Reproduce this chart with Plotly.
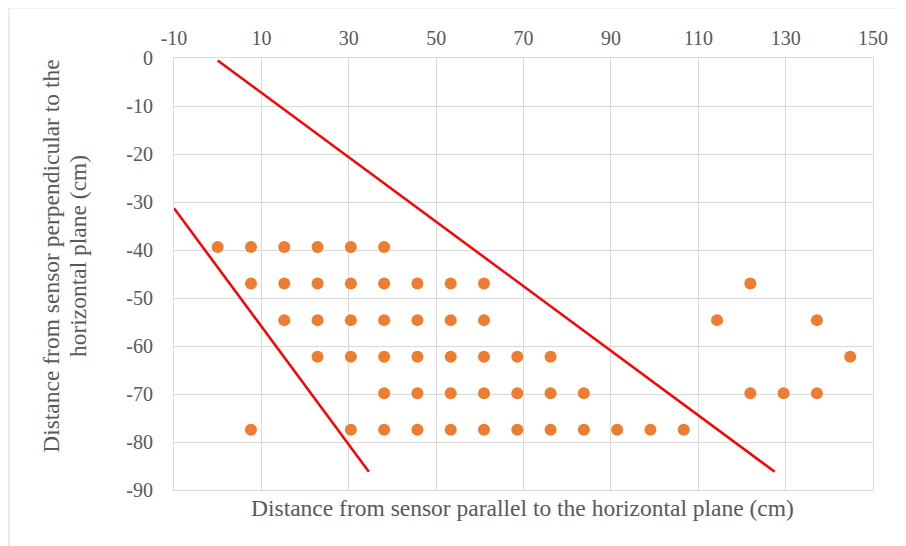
import plotly.graph_objects as go

step = 7.62
row_y = [-39.37, -46.99, -54.61, -62.23, -69.85, -77.47]
row_idx = [
    [0, 1, 2, 3, 4, 5],
    [1, 2, 3, 4, 5, 6, 7, 8, 16],
    [2, 3, 4, 5, 6, 7, 8, 15, 18],
    [3, 4, 5, 6, 7, 8, 9, 10, 19],
    [5, 6, 7, 8, 9, 10, 11, 16, 17, 18],
    [1, 4, 5, 6, 7, 8, 9, 10, 11, 12, 13, 14],
]
pts_x = []
pts_y = []
for yv, idxs in zip(row_y, row_idx):
    for i in idxs:
        pts_x.append(round(i * step, 2))
        pts_y.append(yv)

line1_x = [0, 127.5]
line1_y = [-0.5, -86.2]
line2_x = [-10, 34.6]
line2_y = [-31.3, -86.2]

x_ticks = [-10, 10, 30, 50, 70, 90, 110, 130, 150]
x_labels = ["-10", "10", "30", "50", "70", "90", "110", "130", "150"]
y_ticks = [0, -10, -20, -30, -40, -50, -60, -70, -80, -90]
y_labels = ["0", "-10", "-20", "-30", "-40", "-50", "-60", "-70", "-80", "-90"]

font_family = "Liberation Serif"
gray = "#595959"

fig = go.Figure()
fig.add_trace(go.Scatter(x=pts_x, y=pts_y, mode="markers",
                         marker=dict(color="#ED7D31", size=12), showlegend=False))
fig.add_trace(go.Scatter(x=line1_x, y=line1_y, mode="lines",
                         line=dict(color="#FF0000", width=2.5), showlegend=False))
fig.add_trace(go.Scatter(x=line2_x, y=line2_y, mode="lines",
                         line=dict(color="#FF0000", width=2.5), showlegend=False))

fig.update_layout(
    width=898, height=538,
    margin=dict(l=166, r=33, t=50, b=56),
    paper_bgcolor="white", plot_bgcolor="white",
    font=dict(family=font_family, size=20, color=gray),
    xaxis=dict(range=[-10, 150], tickvals=x_ticks, ticktext=x_labels, side="top",
               showgrid=True, gridcolor="#D9D9D9", gridwidth=1,
               zeroline=False, showline=True, linecolor="#D9D9D9", mirror=True,
               ticks="", ticklen=0, ticklabelstandoff=4,
               tickfont=dict(size=20, color=gray, family=font_family)),
    yaxis=dict(range=[-90, 0], tickvals=y_ticks, ticktext=y_labels,
               showgrid=True, gridcolor="#D9D9D9", gridwidth=1,
               zeroline=False, showline=True, linecolor="#D9D9D9", mirror=True,
               ticks="", ticklen=0, ticklabelstandoff=16,
               tickfont=dict(size=20, color=gray, family=font_family)),
    shapes=[dict(type="rect", xref="paper", yref="paper",
                 x0=-0.236, x1=1.1, y0=-0.3, y1=1.116,
                 line=dict(color="#D9D9D9", width=1), fillcolor="rgba(0,0,0,0)", layer="below")],
    annotations=[
        dict(text="Distance from sensor parallel to the horizontal plane (cm)",
             xref="paper", yref="paper", x=0.499, y=-0.042, xanchor="center", yanchor="middle",
             showarrow=False, font=dict(size=23.5, color=gray, family=font_family)),
        dict(text="Distance from sensor perpendicular to the",
             xref="paper", yref="paper", x=-0.176, y=0.542, xanchor="center", yanchor="middle",
             textangle=-90, showarrow=False,
             font=dict(size=23.5, color=gray, family=font_family)),
        dict(text="horizontal plane (cm)",
             xref="paper", yref="paper", x=-0.137, y=0.542, xanchor="center", yanchor="middle",
             textangle=-90, showarrow=False,
             font=dict(size=23.5, color=gray, family=font_family)),
    ],
)

fig.write_html("out.html")
